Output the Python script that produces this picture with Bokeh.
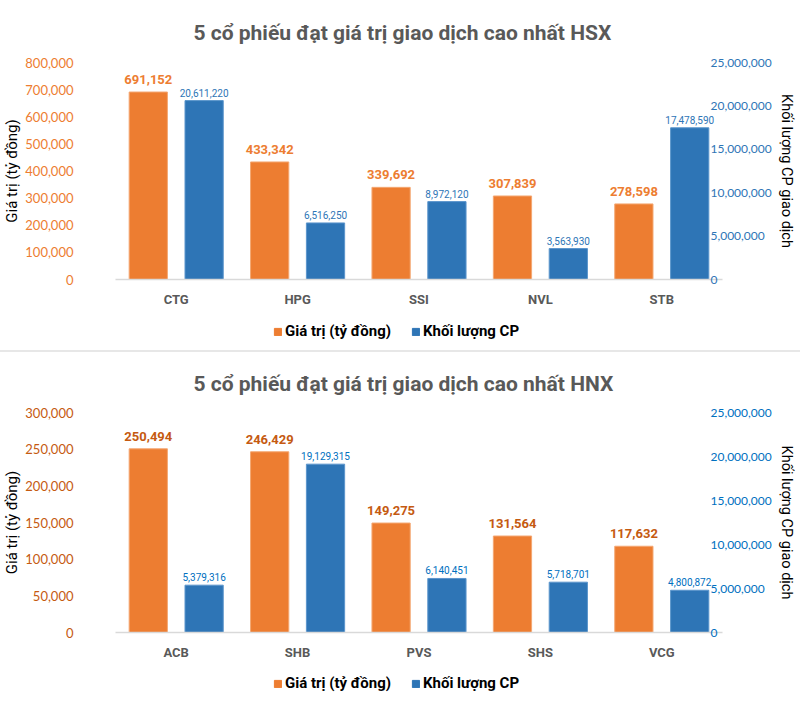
from bokeh.plotting import figure
from bokeh.models import (Range1d, LinearAxis, NumeralTickFormatter, SingleIntervalTicker,
                          Legend, LegendItem, ColumnDataSource, Div, FactorRange)
from bokeh.transform import dodge
from bokeh.layouts import column
from bokeh.embed import file_html
from bokeh.resources import INLINE
from bokeh.core.properties import value

# ---------------- data ----------------
hsx_title = "5 cổ phiếu đạt giá trị giao dịch cao nhất HSX"
hsx_stocks = ["CTG", "HPG", "SSI", "NVL", "STB"]
hsx_value = [691152, 433342, 339692, 307839, 278598]
hsx_volume = [20611220, 6516250, 8972120, 3563930, 17478590]

hnx_title = "5 cổ phiếu đạt giá trị giao dịch cao nhất HNX"
hnx_stocks = ["ACB", "SHB", "PVS", "SHS", "VCG"]
hnx_value = [250494, 246429, 149275, 131564, 117632]
hnx_volume = [5379316, 19129315, 6140451, 5718701, 4800872]

left_label = "Giá trị (tỷ đồng)"
right_label = "Khối lượng CP giao dịch"
series_names = ["Giá trị (tỷ đồng)", "Khối lượng CP"]

ORANGE = "#ED7D31"
BLUE = "#2E75B6"
VN_FONT = "Roboto"
NUM_FONT = "Lato"
W = 800


def make_chart(title, stocks, vals, vols, left_max, left_step, right_max, right_step,
               height, top, title_standoff, tick_orange, lab_orange, tick_blue, lab_blue):
    src = ColumnDataSource(dict(
        x=stocks, v=vals, q=vols,
        vt=[f"{a:,}" for a in vals], qt=[f"{b:,}" for b in vols]))
    p = figure(x_range=FactorRange(factors=stocks), y_range=Range1d(0, left_max),
               width=W, height=height, output_backend="svg", toolbar_location=None,
               min_border_left=112, min_border_right=W - 722, min_border_top=top,
               min_border_bottom=height - top - 221)
    p.outline_line_color = None
    p.grid.visible = False
    p.extra_y_ranges = {"r": Range1d(0, right_max)}

    p.title.text = title
    p.title.align = "left"
    p.title.offset = 78
    p.title.text_font = VN_FONT
    p.title.text_font_size = "21px"
    p.title.text_font_style = "bold"
    p.title.text_color = "#595959"
    p.title.standoff = title_standoff

    p.vbar(x=dodge("x", -0.23, range=p.x_range), top="v", width=0.315, source=src,
           fill_color=ORANGE, line_color="#F4A772", line_width=1)
    p.vbar(x=dodge("x", 0.23, range=p.x_range), top="q", width=0.315, source=src,
           y_range_name="r", fill_color=BLUE, line_color="#5B95CC", line_width=1)

    p.text(x=dodge("x", -0.23, range=p.x_range), y="v", text="vt", source=src,
           text_align="center", text_baseline="bottom", y_offset=-8,
           text_font=value(VN_FONT), text_font_style="bold", text_font_size="13px",
           text_color=lab_orange)
    p.text(x=dodge("x", 0.23, range=p.x_range), y="q", text="qt", source=src,
           y_range_name="r", text_align="center", text_baseline="bottom", y_offset=-4,
           text_font=value(VN_FONT), text_font_size="10px", text_color=lab_blue)

    # x axis
    xa = p.xaxis[0]
    xa.axis_line_color = "#D9D9D9"
    xa.axis_line_width = 1.5
    xa.major_tick_line_color = None
    xa.minor_tick_line_color = None
    xa.major_tick_out = 0
    xa.major_tick_in = 0
    xa.major_label_standoff = 12
    xa.major_label_text_font = VN_FONT
    xa.major_label_text_font_style = "bold"
    xa.major_label_text_font_size = "13px"
    xa.major_label_text_color = "#595959"

    # left axis
    ya = p.yaxis[0]
    ya.ticker = SingleIntervalTicker(interval=left_step)
    ya.formatter = NumeralTickFormatter(format="0,0")
    ya.axis_line_color = None
    ya.major_tick_line_color = None
    ya.minor_tick_line_color = None
    ya.major_tick_out = 0
    ya.major_tick_in = 0
    ya.minor_tick_out = 0
    ya.major_label_standoff = 42
    ya.major_label_text_font = NUM_FONT
    ya.major_label_text_font_size = "13px"
    ya.major_label_text_color = tick_orange
    ya.axis_label = left_label
    ya.axis_label_text_font = VN_FONT
    ya.axis_label_text_font_style = "normal"
    ya.axis_label_text_font_size = "15px"
    ya.axis_label_text_color = "#000000"
    ya.axis_label_standoff = 1

    # right axis
    ra = LinearAxis(y_range_name="r", ticker=SingleIntervalTicker(interval=right_step),
                    formatter=NumeralTickFormatter(format="0,0"))
    ra.axis_line_color = None
    ra.major_tick_line_color = None
    ra.minor_tick_line_color = None
    ra.major_tick_out = 0
    ra.major_tick_in = 0
    ra.minor_tick_out = 0
    ra.major_label_standoff = -12
    ra.major_label_text_font = NUM_FONT
    ra.major_label_text_font_size = "12px"
    ra.major_label_text_color = tick_blue
    ra.axis_label = right_label
    ra.axis_label_text_font = VN_FONT
    ra.axis_label_text_font_style = "normal"
    ra.axis_label_text_font_size = "14.5px"
    ra.axis_label_text_color = "#000000"
    ra.axis_label_standoff = 3
    p.add_layout(ra, "right")
    return p


def make_legend(height, loc_y):
    lsrc = ColumnDataSource(dict(name=series_names, h=[0, 0]))
    lf = figure(width=W, height=height, output_backend="svg", toolbar_location=None,
                x_range=FactorRange(factors=series_names), y_range=Range1d(0, 1),
                x_axis_type=None, y_axis_type=None,
                min_border=0, min_border_left=0, min_border_right=0,
                min_border_top=0, min_border_bottom=0)
    lf.outline_line_color = None
    lf.grid.visible = False
    ro = lf.vbar(x="name", top="h", width=0.3, fill_color=ORANGE, line_color=ORANGE,
                 source=lsrc, visible=False)
    rb = lf.vbar(x="name", top="h", width=0.3, fill_color=BLUE, line_color=BLUE,
                 source=lsrc, visible=False)
    leg = Legend(items=[LegendItem(label=series_names[0], renderers=[ro], index=0),
                        LegendItem(label=series_names[1], renderers=[rb], index=1)],
                 location=(158, loc_y), orientation="horizontal",
                 glyph_width=9, glyph_height=9, label_standoff=3, spacing=20,
                 padding=0, margin=0, border_line_color=None,
                 background_fill_alpha=0,
                 label_text_font=VN_FONT, label_text_font_style="bold",
                 label_text_font_size="15px", label_text_color="#000000")
    lf.add_layout(leg, "center")
    return lf


p1 = make_chart(hsx_title, hsx_stocks, hsx_value, hsx_volume, 800000, 100000,
                25000000, 5000000, 310, 58, 36, ORANGE, ORANGE, BLUE, BLUE)
l1 = make_legend(40, 10)
sep = Div(width=W, height=2, margin=0, styles={"background-color": "#E7E7E7"})
p2 = make_chart(hnx_title, hnx_stocks, hnx_value, hnx_volume, 300000, 50000,
                25000000, 5000000, 312, 59, 34, "#C55A11", "#C55A11", "#0070C0", "#0070C0")
l2 = make_legend(56, 28)

layout = column(p1, l1, sep, p2, l2, spacing=0)
open("out.html", "w").write(file_html(layout, INLINE))
